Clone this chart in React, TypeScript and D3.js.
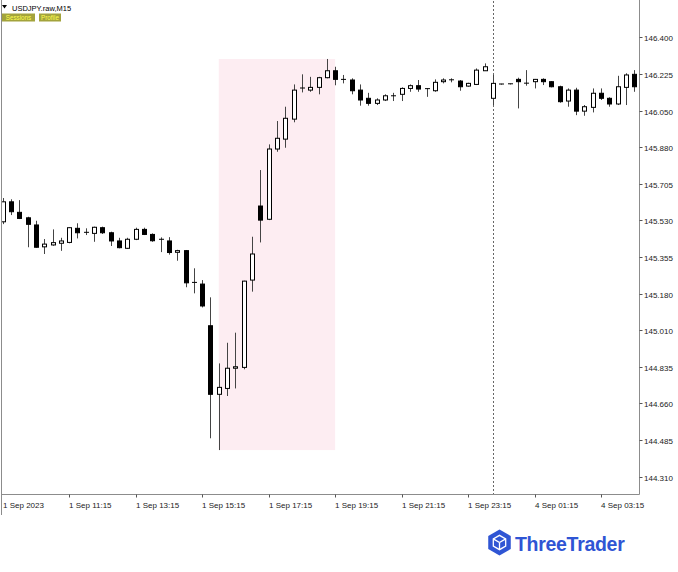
import React from 'react';
import * as d3 from 'd3';

// OHLC values for USDJPY M15 bars, 1 Sep 09:15 .. 4 Sep 04:15
const opens = [
  145.523, 145.618, 145.568, 145.542, 145.508, 145.404, 145.413, 145.421, 145.425, 145.492,
  145.473, 145.468, 145.495, 145.471, 145.432, 145.397, 145.440, 145.487, 145.463, 145.440,
  145.432, 145.378, 145.386, 145.235, 145.227, 145.029, 144.703, 144.731, 144.827, 144.831,
  145.246, 145.598, 145.535, 145.869, 145.916, 146.011, 146.157, 146.149, 146.162, 146.208,
  146.241, 146.200, 146.197, 146.149, 146.110, 146.086, 146.102, 146.120, 146.129, 146.157,
  146.170, 146.156, 146.146, 146.189, 146.196, 146.192, 146.168, 146.176, 146.241, 146.110,
  146.176, 146.177, 146.200, 146.180, 146.189, 146.200, 146.189, 146.165, 146.097, 146.149,
  146.049, 146.067, 146.134, 146.110, 146.083, 146.162, 146.224,
];
const highs = [
  145.636, 145.630, 145.626, 145.547, 145.528, 145.441, 145.487, 145.447, 145.497, 145.516,
  145.492, 145.500, 145.500, 145.476, 145.447, 145.447, 145.495, 145.495, 145.468, 145.449,
  145.450, 145.390, 145.389, 145.302, 145.246, 145.164, 144.850, 144.948, 144.996, 145.243,
  145.452, 145.769, 145.891, 146.002, 146.070, 146.176, 146.224, 146.212, 146.212, 146.297,
  146.260, 146.221, 146.205, 146.176, 146.136, 146.110, 146.129, 146.136, 146.162, 146.176,
  146.197, 146.158, 146.200, 146.205, 146.205, 146.197, 146.184, 146.252, 146.276, 146.221,
  146.179, 146.180, 146.208, 146.244, 146.202, 146.205, 146.192, 146.170, 146.157, 146.160,
  146.078, 146.157, 146.157, 146.115, 146.217, 146.229, 146.244,
];
const lows = [
  145.512, 145.555, 145.536, 145.402, 145.400, 145.370, 145.409, 145.385, 145.421, 145.444,
  145.460, 145.428, 145.465, 145.408, 145.397, 145.394, 145.436, 145.460, 145.428, 145.379,
  145.367, 145.338, 145.212, 145.183, 145.116, 144.494, 144.438, 144.695, 144.731, 144.822,
  145.191, 145.425, 145.531, 145.856, 145.875, 145.996, 146.138, 146.141, 146.129, 146.205,
  146.172, 146.181, 146.129, 146.075, 146.075, 146.078, 146.097, 146.097, 146.097, 146.141,
  146.141, 146.117, 146.141, 146.181, 146.186, 146.146, 146.165, 146.173, 146.240, 146.078,
  146.175, 146.176, 146.062, 146.170, 146.157, 146.173, 146.162, 146.089, 146.070, 146.030,
  146.027, 146.043, 146.102, 146.070, 146.078, 146.078, 146.141,
];
const closes = [
  145.618, 145.571, 145.539, 145.511, 145.402, 145.417, 145.424, 145.432, 145.495, 145.471,
  145.472, 145.497, 145.471, 145.432, 145.400, 145.440, 145.487, 145.463, 145.433, 145.438,
  145.377, 145.386, 145.233, 145.232, 145.123, 144.703, 144.736, 144.827, 144.834, 145.241,
  145.370, 145.531, 145.869, 145.920, 146.015, 146.149, 146.159, 146.162, 146.208, 146.241,
  146.200, 146.199, 146.146, 146.102, 146.086, 146.102, 146.122, 146.122, 146.157, 146.170,
  146.154, 146.153, 146.186, 146.197, 146.198, 146.165, 146.181, 146.244, 146.260, 146.181,
  146.178, 146.179, 146.189, 146.182, 146.200, 146.189, 146.165, 146.094, 146.149, 146.049,
  146.070, 146.134, 146.110, 146.083, 146.165, 146.221, 146.165,
];

const timeTickBars = [0, 8, 16, 24, 32, 40, 48, 56, 64, 72];
const timeTickLabels = [
  '1 Sep 2023', '1 Sep 11:15', '1 Sep 13:15', '1 Sep 15:15', '1 Sep 17:15',
  '1 Sep 19:15', '1 Sep 21:15', '1 Sep 23:15', '4 Sep 01:15', '4 Sep 03:15',
];
const priceTickLabels = [
  '146.400', '146.225', '146.050', '145.880', '145.705', '145.530', '145.355',
  '145.180', '145.010', '144.835', '144.660', '144.485', '144.310',
];
const sessionStartBar = 26;
const sessionEndBar = 40;
const daySeparatorBar = 59;
const symbolTitle = 'USDJPY.raw,M15';
const buttonLabels = ['Sessions', 'Profile'];
const brandName = 'ThreeTrader';

const FONT = "'Liberation Sans', Arial, sans-serif";
const BLUE = '#2f55d4';

export default function App() {
  const n = opens.length;
  const x = d3.scaleLinear().domain([0, n - 1]).range([2.7, 634.3]);
  const y = d3.scaleLinear().domain([144.31, 146.4]).range([477, 37.3]);

  const plotLeft = 1.5;
  const plotRight = 639.5;
  const plotBottom = 494.5;

  const sessHigh = d3.max(highs.slice(sessionStartBar, sessionEndBar + 1)) as number;
  const sessLow = d3.min(lows.slice(sessionStartBar, sessionEndBar + 1)) as number;

  const candles = opens.map((o, i) => {
    const c = closes[i];
    const h = highs[i];
    const l = lows[i];
    const cx = Math.round(x(i)) + 0.5;
    const top = y(Math.max(o, c));
    const bot = y(Math.min(o, c));
    const bull = c >= o;
    const bh = bot - top;
    return (
      <g key={i}>
        <line x1={cx} x2={cx} y1={y(h)} y2={y(l)} stroke="#444" strokeWidth={1} />
        {bh < 1 ? (
          <line x1={cx - 2.5} x2={cx + 2.5} y1={top} y2={top} stroke="#000" strokeWidth={1} />
        ) : (
          <rect x={cx - 2} y={top} width={4} height={bh} fill={bull ? '#fff' : '#000'} stroke="#000" strokeWidth={1} />
        )}
      </g>
    );
  });

  // logo hexagon
  const lcx = 499.5, lcy = 542.5, lr = 13;
  const hex = d3.range(6).map((k) => {
    const a = ((-90 + 60 * k) * Math.PI) / 180;
    return [lcx + lr * Math.cos(a), lcy + lr * Math.sin(a)];
  });
  const hexPath = 'M' + hex.map((p) => p.join(',')).join('L') + 'Z';
  const inner = d3.range(6).map((k) => {
    const a = ((-90 + 60 * k) * Math.PI) / 180;
    return [lcx + lr * 0.55 * Math.cos(a), lcy + lr * 0.55 * Math.sin(a)];
  });
  const innerPath = 'M' + inner.map((p) => p.join(',')).join('L') + 'Z';

  return (
    <svg
      width={678}
      height={572}
      style={{ position: 'absolute', left: 0, top: 0, background: '#fff' }}
      fontFamily={FONT}
    >
      <rect x={0} y={0} width={678} height={572} fill="#fff" />
      {/* session box */}
      <rect
        x={x(sessionStartBar)}
        y={y(sessHigh)}
        width={x(sessionEndBar) - x(sessionStartBar)}
        height={y(sessLow) - y(sessHigh)}
        fill="#fdedf2"
      />
      {/* day separator */}
      <line
        x1={Math.round(x(daySeparatorBar)) + 0.5}
        x2={Math.round(x(daySeparatorBar)) + 0.5}
        y1={1}
        y2={plotBottom}
        stroke="#666"
        strokeDasharray="2,2"
      />
      {candles}

      {/* frame */}
      <line x1={plotLeft} x2={plotLeft} y1={0} y2={515} stroke="#8c8c8c" />
      <line x1={plotRight} x2={plotRight} y1={0} y2={plotBottom} stroke="#8c8c8c" />
      <line x1={plotLeft} x2={plotRight} y1={plotBottom} y2={plotBottom} stroke="#8c8c8c" />

      {/* price axis */}
      {priceTickLabels.map((t) => {
        const py = Math.round(y(+t)) + 0.5;
        return (
          <g key={t}>
            <line x1={plotRight} x2={plotRight + 3} y1={py} y2={py} stroke="#555" />
            <text x={644} y={py + 3} fontSize={8} fill="#222">{t}</text>
          </g>
        );
      })}

      {/* time axis */}
      {timeTickBars.map((b, i) => {
        const tx = Math.round(x(b)) + 0.5;
        return (
          <g key={b}>
            {i > 0 && <line x1={tx} x2={tx} y1={plotBottom} y2={plotBottom + 3} stroke="#555" />}
            <text x={i === 0 ? 3 : tx - 0.5} y={507.5} fontSize={8} fill="#222">{timeTickLabels[i]}</text>
          </g>
        );
      })}

      {/* title */}
      <path d="M2,5 L7,5 L4.5,8.5 Z" fill="#000" />
      <text x={12} y={11} fontSize={7.5} fill="#000">{symbolTitle}</text>
      <rect x={2} y={13.5} width={33} height={8} fill="#a3a33c" />
      <text x={18.5} y={20.2} fontSize={6.3} fill="#ffff50" textAnchor="middle">{buttonLabels[0]}</text>
      <rect x={39} y={13.5} width={22} height={8} fill="#a3a33c" />
      <text x={50} y={20.2} fontSize={6.3} fill="#ffff50" textAnchor="middle">{buttonLabels[1]}</text>

      {/* logo */}
      <path d={hexPath} fill={BLUE} />
      <path d={innerPath} fill="none" stroke="#fff" strokeWidth={1.3} />
      <line x1={lcx} y1={lcy} x2={inner[3][0]} y2={inner[3][1]} stroke="#fff" strokeWidth={1.3} />
      <line x1={lcx} y1={lcy} x2={inner[1][0]} y2={inner[1][1]} stroke="#fff" strokeWidth={1.3} />
      <line x1={lcx} y1={lcy} x2={inner[5][0]} y2={inner[5][1]} stroke="#fff" strokeWidth={1.3} />
      <text x={515} y={551} fontSize={19.5} fontWeight="bold" fill={BLUE} letterSpacing={-0.3}>{brandName}</text>
    </svg>
  );
}
